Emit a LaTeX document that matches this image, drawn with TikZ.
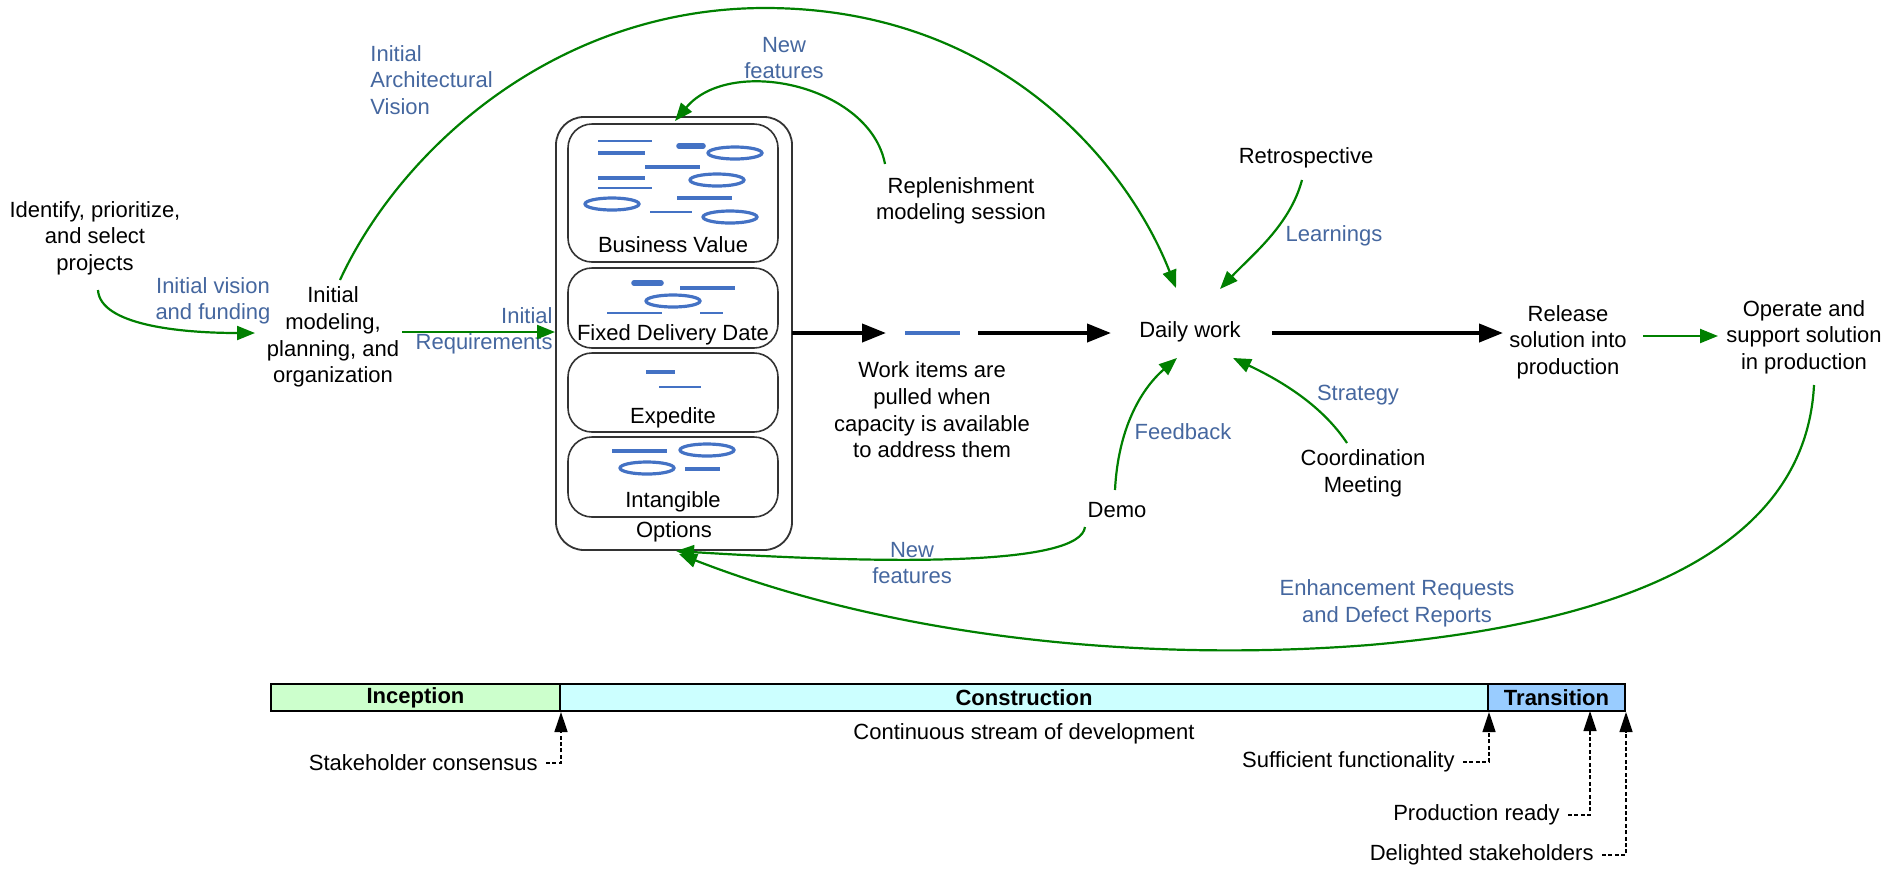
\documentclass[tikz,border=0pt]{standalone}
\usepackage{fontspec}
\setmainfont{Liberation Sans}
\usetikzlibrary{arrows.meta}
\definecolor{gr}{RGB}{0,128,0}
\definecolor{lb}{RGB}{69,103,159}
\definecolor{db}{RGB}{68,114,196}
\definecolor{incc}{RGB}{204,255,204}
\definecolor{conc}{RGB}{204,255,255}
\definecolor{trac}{RGB}{153,204,255}
\begin{document}
\begin{tikzpicture}[x=0.5pt,y=-0.5pt,
  every node/.style={font=\fontsize{11}{13.3}\selectfont, inner sep=0pt},
  txt/.style={align=center, text=black},
  lbl/.style={align=center, text=lb},
  mtxt/.style={anchor=east, inner xsep=4pt, text=black},
  garrow/.style={draw=gr, line width=1.1pt, -{Triangle[length=9pt,width=7pt]}},
  karrow/.style={draw=black, line width=2pt, -{Triangle[length=12pt,width=9pt]}},
  mile/.style={draw=black, line width=0.7pt, dash pattern=on 2pt off 1.2pt, -{Triangle[length=10pt,width=6.5pt]}},
  bthin/.style={draw=db, line width=0.9pt},
  bthick/.style={draw=db, line width=1.8pt},
  bfat/.style={draw=db, line width=2.8pt, line cap=round},
  boval/.style={draw=db, line width=1.6pt},
  obox/.style={draw=black!80, line width=0.9pt, rounded corners=14pt},
  ibox/.style={draw=black!80, line width=0.8pt, rounded corners=12pt},
  phase/.style={draw=black, line width=1pt, minimum height=13.5pt, font=\fontsize{11}{13}\selectfont\bfseries},
]
\useasboundingbox (0,0) rectangle (1889,869);

% ---------- text nodes ----------
\node[txt] (ident) at (95,238) {Identify, prioritize,\\and select\\projects};
\node[lbl] (ivf) at (213,301) {Initial vision\\and funding};
\node[txt] (imp) at (333,337) {Initial\\modeling,\\planning, and\\organization};
\node[lbl, align=right, anchor=east] (ireq) at (553,331) {Initial\\Requirements};
\node[lbl, align=left, anchor=west] (iav) at (370,80) {Initial\\Architectural\\Vision};
\node[lbl] (nf1) at (784,58) {New\\features};
\node[txt] (repl) at (961,201) {Replenishment\\modeling session};
\node[txt] (retro) at (1306,158) {Retrospective};
\node[lbl] (learn) at (1334,236) {Learnings};
\node[txt] (daily) at (1190,332) {Daily work};
\node[txt] (work) at (932,410) {Work items are\\pulled when\\capacity is available\\to address them};
\node[lbl] (fb) at (1183,432) {Feedback};
\node[lbl] (strat) at (1358,395) {Strategy};
\node[txt] (coord) at (1363,473) {Coordination\\Meeting};
\node[txt] (demo) at (1117,510) {Demo};
\node[lbl] (nf2) at (912,563) {New\\features};
\node[txt] (rel) at (1568,342) {Release\\solution into\\production};
\node[txt] (oper) at (1804,337) {Operate and\\support solution\\in production};
\node[lbl] (enh) at (1397,603) {Enhancement Requests\\and Defect Reports};

% ---------- options box ----------
\node[obox, minimum width=118pt, minimum height=216.5pt] (opts) at (674,333.5) {};
\node[ibox, minimum width=105pt, minimum height=69pt] (bv) at (673,193) {};
\node[ibox, minimum width=105pt, minimum height=40pt] (fdd) at (673,308) {};
\node[ibox, minimum width=105pt, minimum height=39.5pt] (expd) at (673,392.5) {};
\node[ibox, minimum width=105pt, minimum height=40pt] (intg) at (673,477) {};
\node[txt] (bvl) at (673,245) {Business Value};
\node[txt] (fddl) at (673,335) {Fixed Delivery Date};
\node[txt] (expl) at (673,418) {Expedite};
\node[txt] (intl) at (673,502) {Intangible};
\node[txt] (optl) at (674,532) {Options};

% business value items
\draw[bthin] (598,141) -- (652,141);
\draw[bthick] (598,153) -- (645,153);
\draw[bfat] (679,146) -- (703,146);
\draw[boval] (735,153) ellipse [x radius=27, y radius=6];
\draw[bthick] (645,167) -- (700,167);
\draw[bthick] (598,178) -- (645,178);
\draw[boval] (717,180) ellipse [x radius=27, y radius=6];
\draw[bthin] (598,188) -- (652,188);
\draw[boval] (612,204) ellipse [x radius=27, y radius=6];
\draw[bthick] (677,198) -- (732,198);
\draw[bthin] (650,212) -- (692,212);
\draw[boval] (730,217) ellipse [x radius=27, y radius=6];
% fixed delivery date items
\draw[bfat] (634,283) -- (661,283);
\draw[bthick] (680,288) -- (735,288);
\draw[boval] (673,301) ellipse [x radius=27, y radius=6];
\draw[bthin] (607,313) -- (662,313);
\draw[bthin] (700,313) -- (723,313);
% expedite items
\draw[bthick] (646,372) -- (675,372);
\draw[bthin] (659,387) -- (701,387);
% intangible items
\draw[bthick] (612,451) -- (667,451);
\draw[boval] (707,450) ellipse [x radius=27, y radius=6];
\draw[boval] (647,468) ellipse [x radius=27, y radius=6];
\draw[bthick] (685,469) -- (720,469);

% ---------- coordinates ----------
\coordinate (a1) at (98,290);   \coordinate (a2) at (255,333);
\coordinate (b1) at (402,332);  \coordinate (b2) at (555,332);
\coordinate (c1) at (340,280);  \coordinate (cpk) at (765,8); \coordinate (c2) at (1176,288);
\coordinate (d1) at (885,164);  \coordinate (d2) at (675,121);
\coordinate (k1) at (792,333);  \coordinate (k2) at (886,333);
\coordinate (w1) at (905,333);  \coordinate (w2) at (960,333);
\coordinate (k3) at (978,333);  \coordinate (k4) at (1111,333);
\coordinate (k5) at (1272,333); \coordinate (k6) at (1503,333);
\coordinate (g1) at (1643,336); \coordinate (g2) at (1718,336);
\coordinate (l1) at (1302,180); \coordinate (l2) at (1220,289);
\coordinate (s1) at (1347,443); \coordinate (s2) at (1233,358);
\coordinate (f1) at (1115,490); \coordinate (f2) at (1177,358);
\coordinate (m1) at (1085,527); \coordinate (m2) at (676,551);
\coordinate (e1) at (1814,385); \coordinate (emid) at (1369,645); \coordinate (e2) at (679,554);

% ---------- connectors ----------
\draw[garrow] (a1) .. controls (100,325) and (180,333) .. (a2);
\draw[garrow] (b1) -- (b2);
\draw[garrow] (c1) .. controls (400,150) and (555,8) .. (cpk) .. controls (1005,8) and (1130,170) .. (c2);
\draw[garrow] (d1) .. controls (870,85) and (730,55) .. (d2);
\draw[karrow] (k1) -- (k2);
\draw[draw=db, line width=2pt] (w1) -- (w2);
\draw[karrow] (k3) -- (k4);
\draw[karrow] (k5) -- (k6);
\draw[garrow] (g1) -- (g2);
\draw[garrow] (l1) .. controls (1290,225) and (1252,255) .. (l2);
\draw[garrow] (s1) .. controls (1325,410) and (1290,385) .. (s2);
\draw[garrow] (f1) .. controls (1118,430) and (1140,390) .. (f2);
\draw[garrow] (m1) .. controls (1080,565) and (900,565) .. (m2);
\draw[garrow] (e1) .. controls (1805,560) and (1600,625) .. (emid) .. controls (1150,662) and (900,640) .. (e2);

% ---------- phase bar ----------
\node[phase, fill=incc, minimum width=144.5pt] (incep) at (415.5,697.5) {Inception};
\node[phase, fill=conc, minimum width=464pt] (const) at (1024,697.5) {Construction};
\node[phase, fill=trac, minimum width=68.5pt] (trans) at (1556.5,697.5) {Transition};
\node[txt] (csd) at (1024,734) {Continuous stream of development};

\node[mtxt] (sc) at (546,763) {Stakeholder consensus};
\node[mtxt] (sf) at (1463,762) {Sufficient functionality};
\node[mtxt] (prr) at (1568,815) {Production ready};
\node[mtxt] (ds) at (1602,855) {Delighted stakeholders};
\coordinate (prc) at (1590,711);
\draw[mile] (sc.east) -| (incep.south east);
\draw[mile] (sf.east) -| (const.south east);
\draw[mile] (prr.east) -| (prc);
\draw[mile] (ds.east) -| (trans.south east);
\end{tikzpicture}
\end{document}
